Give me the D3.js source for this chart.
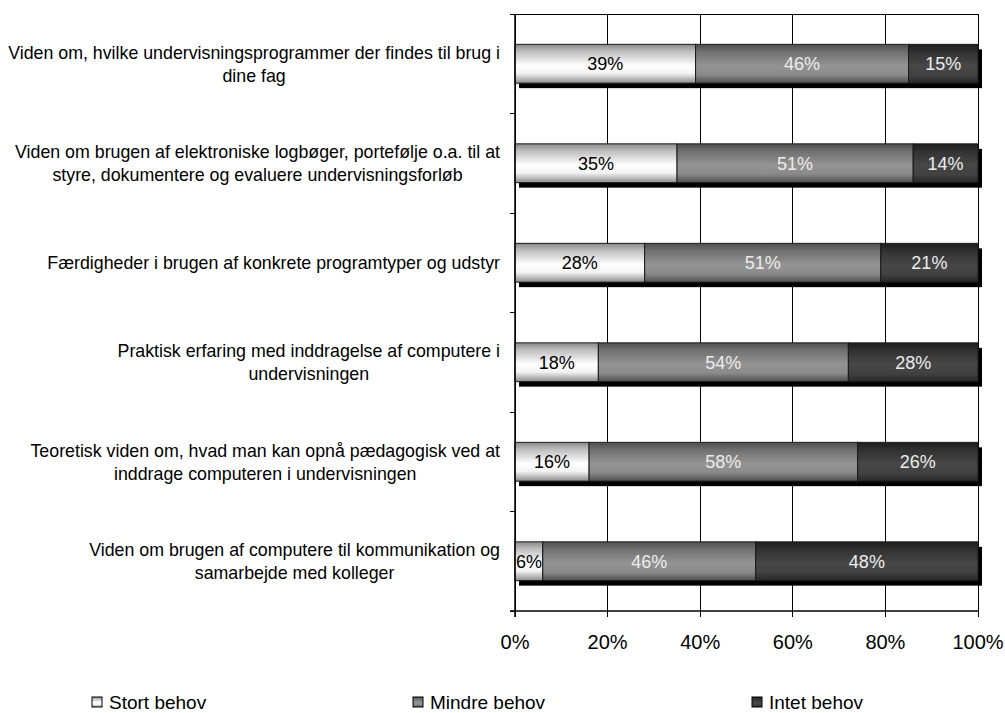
<!DOCTYPE html>
<html>
<head>
<meta charset="utf-8">
<script src="https://cdn.jsdelivr.net/npm/d3@7"></script>
<style>
  body { margin: 0; background: #fff; }
  svg { display: block; font-family: Arial, 'Liberation Sans', sans-serif; }
</style>
</head>
<body>
<svg id="chart" width="1005" height="713"></svg>
<script>
// categories (line breaks as in the original wrapped labels)
const categories = [
  'Viden om, hvilke undervisningsprogrammer der findes til brug i\ndine fag',
  'Viden om brugen af elektroniske logbøger, portefølje o.a. til at\nstyre, dokumentere og evaluere undervisningsforløb',
  'Færdigheder i brugen af konkrete programtyper og udstyr',
  'Praktisk erfaring med inddragelse af computere i\nundervisningen',
  'Teoretisk viden om, hvad man kan opnå pædagogisk ved at\ninddrage computeren i undervisningen',
  'Viden om brugen af computere til kommunikation og\nsamarbejde med kolleger'
];
const seriesNames = ['Stort behov', 'Mindre behov', 'Intet behov'];
const stortBehov = [39, 35, 28, 18, 16, 6];
const mindreBehov = [46, 51, 51, 54, 58, 46];
const intetBehov = [15, 14, 21, 28, 26, 48];
const tickValues = [0, 20, 40, 60, 80, 100];

const renderChart = () => {
  const svg = d3.select('#chart');

  const left = 515, right = 978, top = 14, bottom = 611;

  const x = d3.scaleLinear().domain([0, 100]).range([left, right]);
  const y = d3.scaleBand().domain(d3.range(categories.length)).range([top, bottom]).paddingInner(0.61).paddingOuter(0.305);
  const band = d3.scaleBand().domain(d3.range(categories.length)).range([top, bottom]);

  // gradients, light band in the middle like the original
  const grads = [
    { id: 'g0', stops: [['0%', '#8a8a8a'], ['18%', '#bdbdbd'], ['55%', '#ffffff'], ['75%', '#f2f2f2'], ['100%', '#8c8c8c']] },
    { id: 'g1', stops: [['0%', '#4e4e4e'], ['20%', '#717171'], ['55%', '#949494'], ['78%', '#8a8a8a'], ['100%', '#505050']] },
    { id: 'g2', stops: [['0%', '#1e1e1e'], ['22%', '#333333'], ['55%', '#474747'], ['80%', '#414141'], ['100%', '#262626']] }
  ];
  const defs = svg.append('defs');
  grads.forEach(g => {
    const lg = defs.append('linearGradient').attr('id', g.id)
      .attr('x1', 0).attr('y1', 0).attr('x2', 0).attr('y2', 1);
    g.stops.forEach(s => lg.append('stop').attr('offset', s[0]).attr('stop-color', s[1]));
  });

  // gridlines
  svg.append('g')
    .selectAll('line')
    .data(tickValues)
    .join('line')
    .attr('x1', d => x(d)).attr('x2', d => x(d))
    .attr('y1', top).attr('y2', bottom + 6)
    .attr('stroke', '#000').attr('stroke-width', 1)
    .attr('shape-rendering', 'crispEdges');

  // top border
  svg.append('line')
    .attr('x1', left).attr('x2', right).attr('y1', top).attr('y2', top)
    .attr('stroke', '#000').attr('shape-rendering', 'crispEdges');

  const stacked = d3.stack().keys([0, 1, 2])(
    categories.map((c, i) => ({ 0: stortBehov[i], 1: mindreBehov[i], 2: intetBehov[i] }))
  );

  // shadows
  svg.append('g')
    .selectAll('rect')
    .data(categories)
    .join('rect')
    .attr('x', x(0) + 4)
    .attr('y', (_, i) => y(i) + 5)
    .attr('width', x(100) - x(0))
    .attr('height', y.bandwidth())
    .attr('fill', '#000');

  const layer = svg.append('g')
    .selectAll('g')
    .data(stacked)
    .join('g');

  layer.selectAll('rect')
    .data(d => d)
    .join('rect')
    .attr('x', d => x(d[0]))
    .attr('y', (_, i) => y(i))
    .attr('width', d => x(d[1]) - x(d[0]))
    .attr('height', y.bandwidth())
    .attr('fill', function () { return `url(#g${d3.select(this.parentNode).datum().key})`; })
    .attr('stroke', '#1a1a1a')
    .attr('stroke-width', 1);

  layer.selectAll('text')
    .data(d => d.map(v => ({ v, key: d.key })))
    .join('text')
    .attr('x', d => (x(d.v[0]) + x(d.v[1])) / 2)
    .attr('y', (_, i) => y(i) + y.bandwidth() / 2)
    .attr('dy', '0.36em')
    .attr('text-anchor', 'middle')
    .attr('font-size', 18)
    .attr('fill', d => d.key === 0 ? '#000' : '#ececec')
    .text(d => `${d.v[1] - d.v[0]}%`);

  // left axis line and category ticks
  svg.append('line')
    .attr('x1', left).attr('x2', left).attr('y1', top).attr('y2', bottom + 6)
    .attr('stroke', '#000').attr('stroke-width', 1.5);
  svg.append('g')
    .selectAll('line')
    .data(d3.range(categories.length + 1))
    .join('line')
    .attr('x1', left - 5).attr('x2', left)
    .attr('y1', i => i < categories.length ? band(i) : bottom)
    .attr('y2', i => i < categories.length ? band(i) : bottom)
    .attr('stroke', '#000').attr('shape-rendering', 'crispEdges');

  // bottom axis
  svg.append('line')
    .attr('x1', left - 5).attr('x2', right).attr('y1', bottom).attr('y2', bottom)
    .attr('stroke', '#000').attr('stroke-width', 1.5);

  svg.append('g')
    .selectAll('text')
    .data(tickValues)
    .join('text')
    .attr('x', d => x(d))
    .attr('y', 642)
    .attr('dy', '0.36em')
    .attr('text-anchor', 'middle')
    .attr('font-size', 20)
    .text(d => `${d}%`);

  // category labels: centered lines, block right-aligned at 500
  const labels = svg.append('g')
    .selectAll('text')
    .data(categories)
    .join('text')
    .attr('font-size', 17.8)
    .attr('text-anchor', 'middle')
    .attr('fill', '#000');

  labels.each(function (c, i) {
    const lines = c.split('\n');
    const t = d3.select(this);
    const cy = band(i) + band.bandwidth() / 2;
    const lh = 23;
    lines.forEach((ln, j) => {
      t.append('tspan').attr('x', 0)
        .attr('y', cy + (j - (lines.length - 1) / 2) * lh)
        .attr('dy', '0.36em')
        .text(ln);
    });
    let maxW = 0;
    t.selectAll('tspan').each(function () { maxW = Math.max(maxW, this.getComputedTextLength()); });
    t.selectAll('tspan').attr('x', 500 - maxW / 2);
  });

  // legend
  const legendX = [92, 413, 752];
  const legend = svg.append('g')
    .selectAll('g')
    .data(seriesNames)
    .join('g')
    .attr('transform', (_, i) => `translate(${legendX[i]},701)`);
  legend.append('rect')
    .attr('x', 0).attr('y', -4).attr('width', 10).attr('height', 10)
    .attr('fill', (_, i) => `url(#g${i})`)
    .attr('stroke', '#000');
  legend.append('text')
    .attr('x', 17).attr('y', 7.5)
    .attr('font-size', 19)
    .text(d => d);
};

renderChart();
</script>
</body>
</html>
